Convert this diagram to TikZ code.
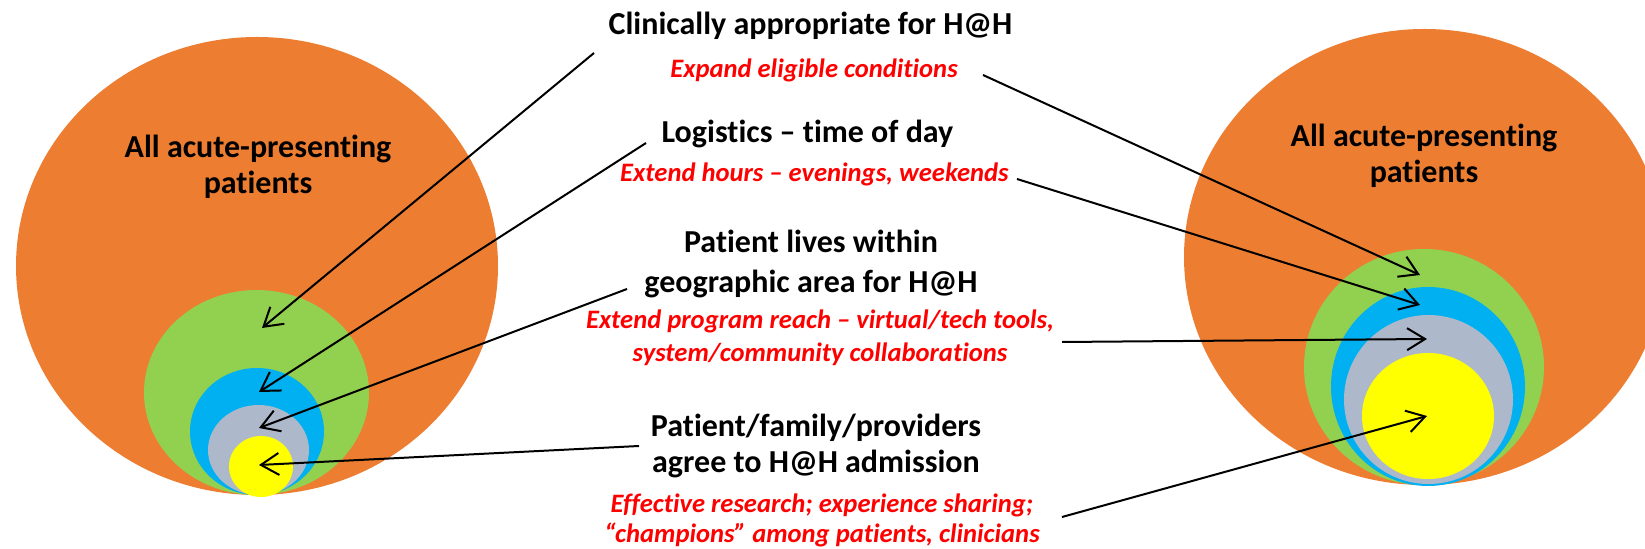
\documentclass[tikz,border=0pt]{standalone}
\usepackage{fontspec}
\setmainfont{Carlito}[Ligatures=NoCommon]
\usetikzlibrary{arrows.meta}
\definecolor{orng}{HTML}{ED7D31}
\definecolor{grn}{HTML}{92D050}
\definecolor{blu}{HTML}{00B0F0}
\definecolor{gry}{HTML}{ADB9CA}
\definecolor{yel}{HTML}{FFFF00}
\definecolor{hred}{HTML}{FF0000}
\begin{document}
\begin{tikzpicture}[x=0.5pt, y=-0.5pt]

\tikzstyle{blk}=[font=\bfseries\fontsize{16}{18}\selectfont, align=center, inner sep=0pt, anchor=base]
\tikzstyle{circtxt}=[font=\bfseries\fontsize{16}{18}\selectfont, align=center, inner sep=0pt, anchor=base]
\tikzstyle{redtxt}=[font=\bfseries\itshape\fontsize{13.3}{15}\selectfont, text=hred, align=center, inner sep=0pt, anchor=base]
\tikzstyle{arrow}=[-{Straight Barb[length=9pt,width=11pt]}, line width=1pt]

\useasboundingbox (0,0) rectangle (1645,549);
\clip (0,0) rectangle (1645,549);

\fill[orng] (257,266) ellipse [x radius=241, y radius=229];
\fill[grn] (256.5,392.5) ellipse [x radius=112.5, y radius=102.5];
\fill[blu] (257,431.5) ellipse [x radius=67, y radius=63.5];
\fill[gry] (258.5,450) ellipse [x radius=50.5, y radius=45];
\fill[yel] (261,466.5) ellipse [x radius=32, y radius=30.5];

\fill[orng] (1424.5,257) ellipse [x radius=240.5, y radius=228];
\fill[grn] (1424,367) ellipse [x radius=120, y radius=118];
\fill[blu] (1428,386.5) ellipse [x radius=97, y radius=99.5];
\fill[gry] (1428.5,399.5) ellipse [x radius=84.5, y radius=84.5];
\fill[yel] (1428,416) ellipse [x radius=66, y radius=63];

\node (allL) [circtxt] at (258,194) {All acute-presenting\\patients};
\node (allR) [circtxt] at (1424,183) {All acute-presenting\\patients};

\node (clin) [blk] at (810.5,35) {Clinically appropriate for H@H};
\node (expand) [redtxt] at (814,78) {Expand eligible conditions};
\node (logi) [blk] at (807.5,143) {Logistics – time of day};
\node (hours) [redtxt] at (814.5,182) {Extend hours – evenings, weekends};
\node (lives) [blk] at (811,293) {Patient lives within\\[2pt]geographic area for H@H};
\node (reach) [redtxt] at (820,362) {Extend program reach – virtual/tech tools,\\[1.5pt]system/community collaborations};
\node (agree) [blk] at (816,473) {Patient/family/providers\\agree to H@H admission};
\node (effect) [redtxt] at (822,543) {Effective research; experience sharing;\\“champions” among patients, clinicians};

\coordinate (tClinL) at (594,53);
\coordinate (tLogiL) at (646,143);
\coordinate (tLivesL) at (627,289);
\coordinate (tAgreeL) at (639,446);
\coordinate (tClinR) at (983,75);
\coordinate (tLogiR) at (1017,179);
\coordinate (tLivesR) at (1062,342);
\coordinate (tAgreeR) at (1062,517);

\coordinate (grnL) at (262,328);
\coordinate (bluL) at (259,392);
\coordinate (gryL) at (259,428);
\coordinate (yelL) at (259,465);
\coordinate (grnR) at (1420,275);
\coordinate (bluR) at (1420,305);
\coordinate (gryR) at (1427,339);
\coordinate (yelR) at (1427,416);

\draw [arrow] (tClinL) -- (grnL);
\draw [arrow] (tLogiL) -- (bluL);
\draw [arrow] (tLivesL) -- (gryL);
\draw [arrow] (tAgreeL) -- (yelL);
\draw [arrow] (tClinR) -- (grnR);
\draw [arrow] (tLogiR) -- (bluR);
\draw [arrow] (tLivesR) -- (gryR);
\draw [arrow] (tAgreeR) -- (yelR);

\end{tikzpicture}
\end{document}
